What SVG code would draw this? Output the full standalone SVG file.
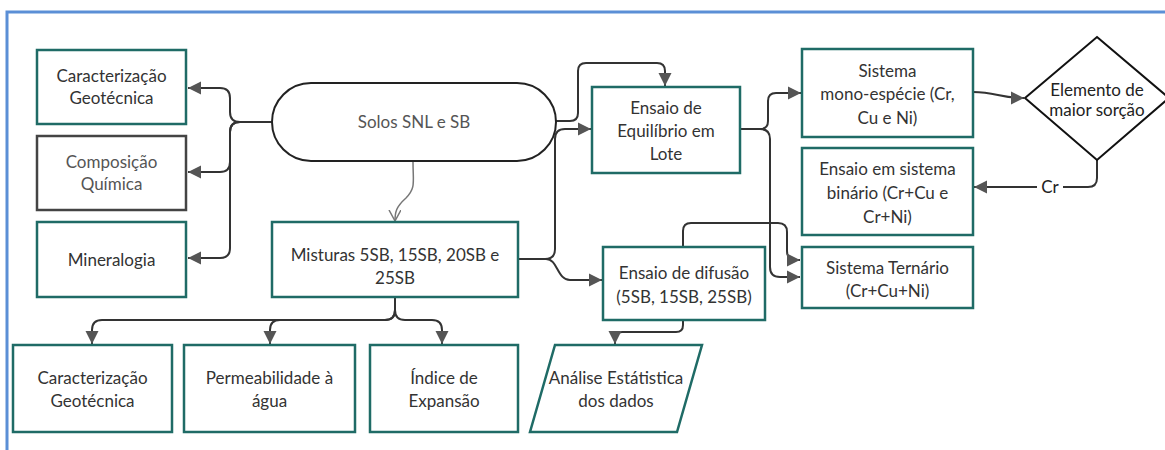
<svg xmlns="http://www.w3.org/2000/svg" width="1165" height="450" viewBox="0 0 1165 450">
<defs>
<style>
.box{fill:#fff;stroke:#1f6b66;stroke-width:2.5}
.gbox{fill:#fff;stroke:#444;stroke-width:2.5}
.blk{fill:#fff;stroke:#222;stroke-width:2}
.t{font-family:Lato,"Open Sans",sans-serif;font-size:17px;fill:#333;text-anchor:middle}
.g{fill:#555}
.c{fill:none;stroke:#333;stroke-width:2}
</style>
<marker id="ah" markerWidth="16" markerHeight="16" refX="13" refY="7.5" orient="auto" markerUnits="userSpaceOnUse"><path d="M0,1 L13,7.5 L0,14 Z" fill="#555"/></marker>
<marker id="oh" markerWidth="14" markerHeight="14" refX="11" refY="6" orient="auto" markerUnits="userSpaceOnUse"><path d="M0,0 L11,6 L0,12" fill="none" stroke="#777" stroke-width="1.5"/></marker>
</defs>
<rect width="1165" height="450" fill="#fff"/>
<path d="M7,450 V12 H1165" fill="none" stroke="#5b8fd6" stroke-width="3"/>

<g id="connectors">
<path class="c" d="M272,122 H240 Q230,122 230,112 V98 Q230,88 220,88 H188" marker-end="url(#ah)"/>
<path class="c" d="M272,122 H240 Q230,122 230,132 V162 Q230,172 220,172 H188" marker-end="url(#ah)"/>
<path class="c" d="M272,122 H240 Q230,122 230,132 V248 Q230,258 220,258 H188" marker-end="url(#ah)"/>
<path d="M413,162 C413,182 416,188 406,198 C396,207 395,212 395,221" fill="none" stroke="#777" stroke-width="1.5" marker-end="url(#oh)"/>
<path class="c" d="M556,121 H570 Q578,121 578,113 V71 Q578,63 586,63 H657 Q665,63 665,71 V86" marker-end="url(#ah)"/>
<path class="c" d="M518,259 H545 Q555,259 555,249 V139 Q555,129 565,129 H591" marker-end="url(#ah)"/>
<path class="c" d="M518,259 H546 C558,259 557,280 570,280 H602" marker-end="url(#ah)"/>
<path class="c" d="M740,129 H760 Q768,129 768,121 V101 Q768,93 776,93 H801" marker-end="url(#ah)"/>
<path class="c" d="M740,129 H760 Q770,129 770,139 V267 Q770,277 780,277 H800" marker-end="url(#ah)"/>
<path class="c" d="M683,247 V231 Q683,223 691,223 H778 Q787,223 787,232 V251 Q787,260 796,260 H800" marker-end="url(#ah)"/>
<path class="c" d="M683,320 V325 Q683,332 676,332 H622 Q615,332 615,339 V344" marker-end="url(#ah)"/>
<path class="c" d="M395,297 V310 Q395,320 385,320 H102 Q92,320 92,330 V344" marker-end="url(#ah)"/>
<path class="c" d="M395,297 V310 Q395,320 385,320 H280 Q270,320 270,330 V344" marker-end="url(#ah)"/>
<path class="c" d="M395,297 V310 Q395,320 405,320 H432 Q442,320 442,330 V344" marker-end="url(#ah)"/>
<path class="c" d="M973,92 C996,92 1000,98 1024,98" marker-end="url(#ah)"/>
<path class="c" d="M1097,160 V178 Q1097,187 1088,187 H974" marker-end="url(#ah)"/>
<rect x="1037" y="177" width="26" height="20" fill="#fff"/>
<text class="t" x="1050" y="193" style="fill:#222">Cr</text>
</g>

<g id="n-carac1"><rect class="box" x="37" y="50" width="149" height="74"/><text class="t" x="111.5" y="82">Caracterização</text><text class="t" x="111.5" y="104">Geotécnica</text></g>
<g id="n-comp"><rect class="gbox" x="37" y="136" width="149" height="74"/><text class="t g" x="111.5" y="168">Composição</text><text class="t g" x="111.5" y="190">Química</text></g>
<g id="n-mineral"><rect class="box" x="37" y="222" width="149" height="75"/><text class="t" x="111.5" y="266">Mineralogia</text></g>
<g id="n-solos"><rect class="blk" x="272" y="83" width="284" height="78" rx="39" ry="39"/><text class="t g" x="414" y="128">Solos SNL e SB</text></g>
<g id="n-misturas"><rect class="box" x="272" y="222" width="246" height="75"/><text class="t" x="395" y="261">Misturas 5SB, 15SB, 20SB e</text><text class="t" x="395" y="284">25SB</text></g>
<g id="n-equil"><rect class="box" x="592" y="87" width="148" height="86"/><text class="t" x="666" y="114">Ensaio de</text><text class="t" x="666" y="137">Equilíbrio em</text><text class="t" x="666" y="160">Lote</text></g>
<g id="n-mono"><rect class="box" x="802" y="49" width="171" height="88"/><text class="t" x="887.5" y="77">Sistema</text><text class="t" x="887.5" y="100">mono-espécie (Cr,</text><text class="t" x="887.5" y="124">Cu e Ni)</text></g>
<g id="n-diamond"><path d="M1097,37 L1169,98 L1097,160 L1025,98 Z" fill="#fff" stroke="#111" stroke-width="2"/><text class="t" x="1097" y="96" style="fill:#222">Elemento de</text><text class="t" x="1097" y="116" style="fill:#222">maior sorção</text></g>
<g id="n-binario"><rect class="box" x="802" y="148" width="171" height="87"/><text class="t" x="887.5" y="175">Ensaio em sistema</text><text class="t" x="887.5" y="199">binário (Cr+Cu e</text><text class="t" x="887.5" y="223">Cr+Ni)</text></g>
<g id="n-ternario"><rect class="box" x="802" y="247" width="171" height="61"/><text class="t" x="887.5" y="274">Sistema Ternário</text><text class="t" x="887.5" y="297">(Cr+Cu+Ni)</text></g>
<g id="n-difusao"><rect class="box" x="603" y="247" width="162" height="73"/><text class="t" x="684" y="279">Ensaio de difusão</text><text class="t" x="684" y="303">(5SB, 15SB, 25SB)</text></g>
<g id="n-carac2"><rect class="box" x="13" y="345" width="159" height="87"/><text class="t" x="92.5" y="384">Caracterização</text><text class="t" x="92.5" y="407">Geotécnica</text></g>
<g id="n-perm"><rect class="box" x="184" y="345" width="171" height="87"/><text class="t" x="269.5" y="384">Permeabilidade à</text><text class="t" x="269.5" y="407">água</text></g>
<g id="n-indice"><rect class="box" x="370" y="345" width="148" height="87"/><text class="t" x="444" y="384">Índice de</text><text class="t" x="444" y="407">Expansão</text></g>
<g id="n-analise"><path d="M555,345 L702,345 L677,432 L530,432 Z" fill="#fff" stroke="#1f6b66" stroke-width="2.5"/><text class="t" x="616" y="384">Análise Estátistica</text><text class="t" x="616" y="407">dos dados</text></g>
</svg>
